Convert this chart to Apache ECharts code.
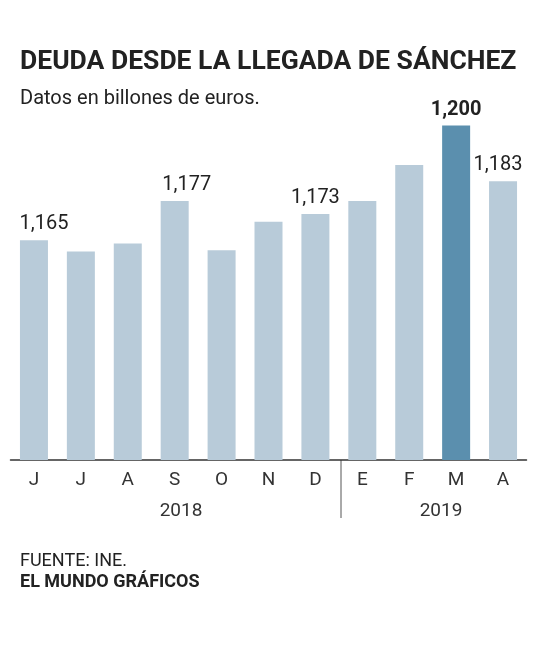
<!DOCTYPE html><html><head><meta charset="utf-8">
<script src="https://cdn.jsdelivr.net/npm/echarts@6/dist/echarts.min.js"></script>
<style>body{margin:0}#c{width:544px;height:652px}</style></head><body><div id="c"></div>
<script>
const categories=['J','J','A','S','O','N','D','E','F','M','A'];
const values=[1165,1161.6,1164,1177,1162,1170.7,1173,1177,1188,1200,1183];
const labeled=[true,false,false,true,false,false,true,false,false,true,true];
const years=['2018','2019'];
const labelShift=[10,0,0,12,0,0,0,0,0,0,-5];
const c=echarts.init(document.getElementById('c'));
const data=values.map((v,i)=>({value:v,
 itemStyle:{color:i===9?'#5b8fae':'#b8cbd9'},
 label:{show:labeled[i],position:'top',distance:6,offset:[labelShift[i],0],fontFamily:'Roboto',fontSize:20,color:'#222',fontWeight:i===9?'bold':'normal',
  formatter:p=>Math.round(p.value).toLocaleString('en-US')}}));
c.setOption({animation:false,
grid:{left:10.5,right:17.5,top:60,bottom:192},
xAxis:{type:'category',data:categories,axisTick:{show:false},axisLine:{lineStyle:{color:'#333',width:1.5}},
 axisLabel:{fontFamily:'Roboto',fontSize:19,color:'#333',margin:11}},
yAxis:{type:'value',min:1098,max:1220,show:false,splitLine:{show:false}},
series:[{type:'bar',data:data,barWidth:28}],
graphic:[
{type:'text',x:20,y:50,scaleX:1.06,style:{text:'DEUDA DESDE LA LLEGADA DE SÁNCHEZ',font:'bold 25px Roboto',fill:'#222'}},
{type:'text',left:20,top:89,style:{text:'Datos en billones de euros.',font:'20px Roboto',fill:'#222'}},
{type:'line',shape:{x1:341,y1:460,x2:341,y2:518},style:{stroke:'#555',lineWidth:1}},
{type:'text',x:181,y:502,style:{text:years[0],font:'19px Roboto',fill:'#333',textAlign:'center'}},
{type:'text',x:441,y:502,style:{text:years[1],font:'19px Roboto',fill:'#333',textAlign:'center'}},
{type:'text',left:20,top:552,style:{text:'FUENTE: INE.',font:'18px Roboto',fill:'#222'}},
{type:'text',left:20,top:573,style:{text:'EL MUNDO GRÁFICOS',font:'bold 18px Roboto',fill:'#222'}}
]});
</script></body></html>
